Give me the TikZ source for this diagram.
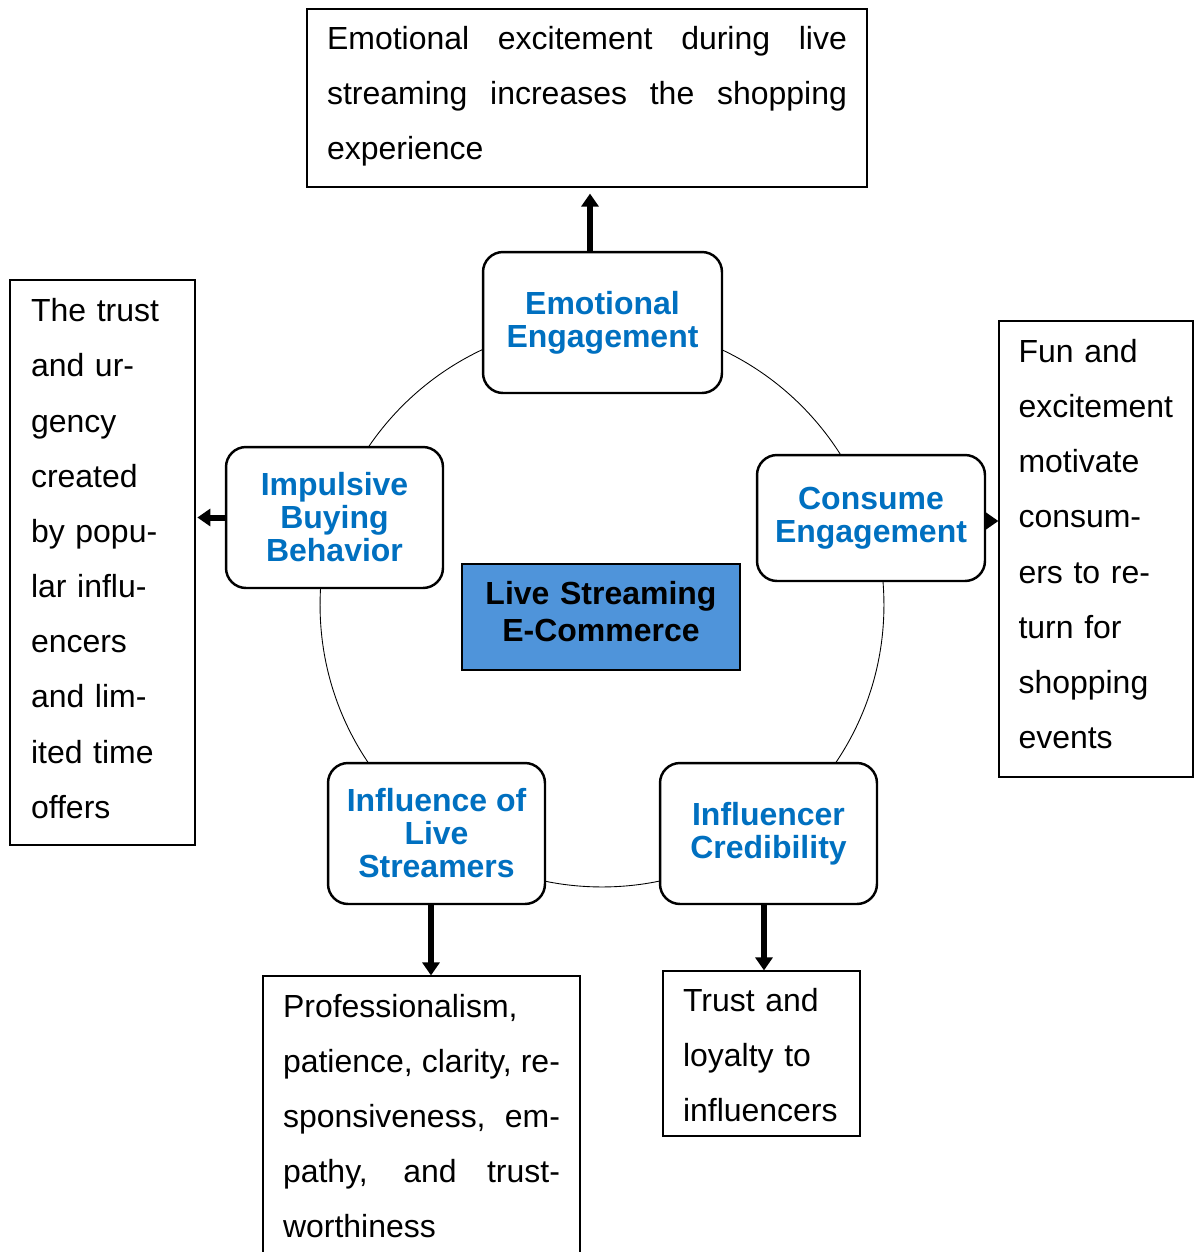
\documentclass[tikz,border=0pt]{standalone}
\usepackage{fontspec}
\setmainfont{Liberation Sans}
\usepackage{xcolor}
\usetikzlibrary{
  arrows.meta,
  positioning
}
\definecolor{headblue}{HTML}{0070C0}
\definecolor{hubfill}{HTML}{4F94DA}

\begin{document}
\begin{tikzpicture}[
  x=0.02cm, y=-0.02cm,
  factor/.style = {shape=rectangle, rounded corners=0.4cm,
    draw, line width=1.4pt, fill=white, align=center, inner sep=0pt,
    text=headblue, font=\fontsize{18.2}{18.8}\selectfont\bfseries,
    minimum width=4.34cm, minimum height=2.82cm},
  note/.style = {shape=rectangle, draw, line width=0.7pt, fill=white,
    font=\fontsize{18.2}{31.4}\selectfont,
    inner ysep=0pt, inner xsep=0.4cm, align=left},
  lift/.style = {execute at end node={\endgraf\vspace{#1}}},
  pointer/.style = {line width=0.12cm, -{Triangle[width=0.34cm,length=0.26cm]}}]
  \useasboundingbox (0,0) rectangle (1194,1252);
  \coordinate (hub) at (602,605);
  \draw[line width=0.5pt] (hub) circle[radius=5.64cm];

  \node[draw, fill=hubfill, line width=0.8pt, align=center, lift=0.2cm,
    font=\fontsize{18.2}{21}\selectfont\bfseries,
    text width=5.2cm, inner xsep=0.18cm, inner ysep=0pt,
    minimum height=2.12cm] (core) at (601,617)
    {Live Streaming\\E-Commerce};

  \node[factor, minimum width=4.78cm] (emo) at (602.5,322.5) {Emotional\\Engagement};
  \node[factor, minimum width=4.56cm, minimum height=2.52cm] (cons) at (871,518) {Consume\\Engagement};
  \node[factor] (imp) at (334.5,517.5) {Impulsive\\Buying\\Behavior};
  \node[factor] (infl) at (436.5,833.5) {Influence of\\Live\\Streamers};
  \node[factor] (cred) at (768.5,833.5) {Influencer\\Credibility};

  \node[note, align=justify, lift=0.08cm, text width=10.4cm, minimum height=3.56cm] (emonote) at (587,98)
    {Emotional excitement during live\linebreak streaming increases the shopping\linebreak experience};
  \node[note, lift=0.16cm, text width=2.86cm, inner xsep=0.42cm, minimum height=11.3cm] (impnote) at (102.5,562.5)
    {The trust\\and ur-\\gency\\created\\by popu-\\lar influ-\\encers\\and lim-\\ited time\\offers};
  \node[note, lift=0.2cm, text width=3.1cm, inner xsep=0.39cm, minimum height=9.12cm] (consnote) at (1096,549)
    {Fun and\\excitement\\motivate\\consum-\\ers to re-\\turn for\\shopping\\events};
  \node[note, align=justify, text width=5.54cm, minimum height=5.6cm] (inflnote) at (421.5,1116)
    {Professionalism,\\patience, clarity, re-\linebreak sponsiveness, em-\linebreak pathy, and trust-\linebreak worthiness};
  \node[note, lift=-0.06cm, text width=3.14cm, minimum height=3.3cm] (crednote) at (761.5,1053.5)
    {Trust and\\loyalty to\\influencers};

  \draw[pointer, shorten >=0.12cm] ([xshift=-0.25cm]emo.north) -- ([xshift=-0.25cm]emo.north |- emonote.south);
  \draw[pointer, shorten >=1pt] (imp.west) -- (imp.west -| impnote.east);
  \draw[pointer] ([yshift=-0.06cm]cons.east) -- ([yshift=-0.06cm]cons.east -| consnote.west);
  \draw[pointer] ([xshift=-0.11cm]infl.south) -- ([xshift=-0.11cm]infl.south |- inflnote.north);
  \draw[pointer] ([xshift=-0.09cm]cred.south) -- ([xshift=-0.09cm]cred.south |- crednote.north);
\end{tikzpicture}
\end{document}
